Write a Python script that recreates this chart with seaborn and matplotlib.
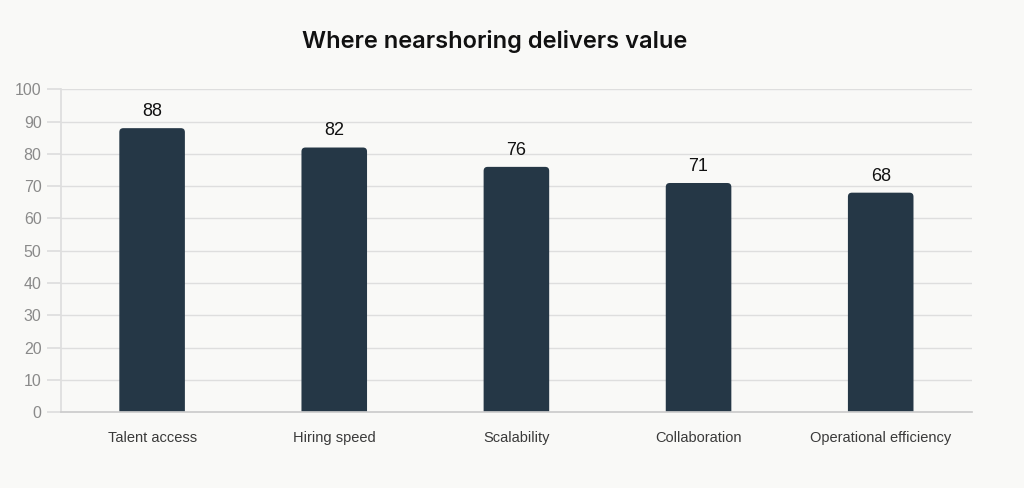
import matplotlib
matplotlib.use("Agg")
import matplotlib.pyplot as plt
from matplotlib.patches import FancyBboxPatch
import seaborn as sns
import pandas as pd

categories = ["Talent access", "Hiring speed", "Scalability", "Collaboration", "Operational efficiency"]
values = [88, 82, 76, 71, 68]
y_ticks = list(range(0, 101, 10))

bg = "#f9f9f7"
bar_color = "#253746"
grid_color = "#dedede"

sns.set_theme(style="white")
plt.rcParams["font.family"] = ["Liberation Sans", "DejaVu Sans"]

df = pd.DataFrame({"area": categories, "score": values})

fig = plt.figure(figsize=(10.24, 4.88), dpi=100, facecolor=bg)
ax = fig.add_axes([0.0596, 0.1557, 0.8894, 0.661])
ax.set_facecolor(bg)

sns.barplot(data=df, x="area", y="score", color=bar_color, width=0.36,
            saturation=1, ax=ax, zorder=3)

ax.set_ylim(0, 100)
ax.set_xlim(-0.5, len(categories) - 0.5)
ax.set_yticks(y_ticks)
ax.grid(axis="y", color=grid_color, linewidth=1, zorder=0)
ax.set_xlabel("")
ax.set_ylabel("")

# swap the bars for ones with rounded top corners (bottom is clipped at 0)
fig.canvas.draw()
inv = ax.transData.inverted()
p0 = inv.transform((0, 0))
p1 = inv.transform((1, 1))
px_x = p1[0] - p0[0]
px_y = p1[1] - p0[1]
r = 4 * px_x
drop = 10 * px_y
for patch in list(ax.patches):
    x, y = patch.get_x(), patch.get_y()
    w, h = patch.get_width(), patch.get_height()
    patch.set_visible(False)
    rounded = FancyBboxPatch((x, y - drop), w, h + drop,
                             boxstyle=f"round,pad=0,rounding_size={r}",
                             mutation_aspect=px_y / px_x,
                             facecolor=bar_color, edgecolor="none", zorder=3)
    ax.add_patch(rounded)
    ax.text(x + w / 2, h + 2.5, f"{h:.0f}", ha="center", va="bottom",
            fontsize=13, color="#111111")

for side in ["top", "right"]:
    ax.spines[side].set_visible(False)
ax.spines["left"].set_color(grid_color)
ax.spines["bottom"].set_color("#cccccc")
ax.spines["bottom"].set_zorder(4)
ax.tick_params(axis="y", length=10, color=grid_color, labelsize=11.5,
               labelcolor="#8a8a8a", pad=4, left=True)
ax.tick_params(axis="x", length=0, labelsize=10.5, labelcolor="#3a3a3a", pad=14)

fig.text(0.4834, 0.915, "Where nearshoring delivers value", ha="center", va="center",
         fontsize=17, fontweight="semibold", color="#111111",
         family=["Inter", "DejaVu Sans"])

fig.savefig("out.png", dpi=100, facecolor=bg)
